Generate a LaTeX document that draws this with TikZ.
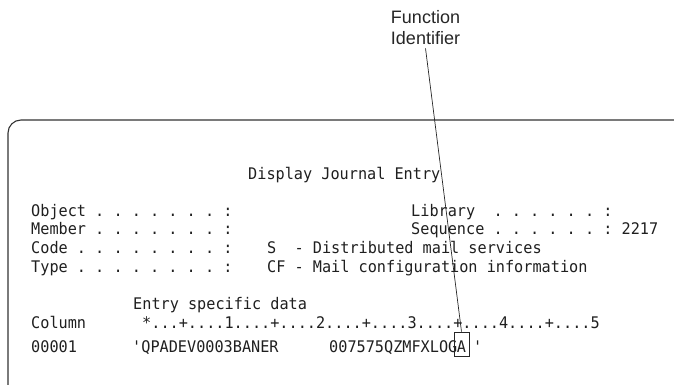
\documentclass[tikz,border=0pt]{standalone}
\usepackage{fontspec}
\setmainfont{Liberation Sans}
\newfontfamily\scrfont[FakeStretch=0.95,Ligatures=TeXOff]{DejaVu Sans Mono}
\newcommand\scrsetup{\scrfont\fontsize{16}{19}\selectfont\frenchspacing\spaceskip=9.15pt plus 0pt minus 0pt\relax}
\tikzset{
  scr/.style={font=\scrsetup, anchor=base west, inner sep=0pt, text=black!88},
  callout/.style={font=\fontsize{18}{21}\selectfont, align=center, text=black!85, inner sep=3pt},
  frameline/.style={draw=black!80, line width=1.1pt, rounded corners=13pt},
  leader/.style={draw=black!85, line width=0.7pt},
  markbox/.style={draw=black!85, line width=0.7pt, font=\scrsetup, anchor=base,
    minimum width=15pt, inner xsep=0pt, inner ysep=0pt, text height=20pt, text depth=4pt, text=black!88}
}
\begin{document}
\begin{tikzpicture}[x=1pt,y=1pt]
\useasboundingbox (0,0) rectangle (674,-385);
\begin{scope}
  \clip (0,0) rectangle (674,-385);
  \draw[frameline] (8,-400) -- (8,-120) -- (690,-120) -- (690,-400);
\end{scope}
% callout label
\node[callout] (fi) at (425.5,-28) {Function\\Identifier};
% screen text
\node[scr] (title) at (248,-179) {Display Journal Entry};
\node[scr] (obj) at (31,-216) {Object . . . . . . . :};
\node[scr] (lib) at (411,-216) {Library~~. . . . . . :};
\node[scr] (mem) at (31,-234.7) {Member . . . . . . . :};
\node[scr] (seq) at (411,-234.7) {Sequence . . . . . . : 2217};
\node[scr] (code) at (31,-253.3) {Code . . . . . . . . :};
\node[scr] (codev) at (267,-253.3) {S~~- Distributed mail services};
\node[scr] (type) at (31,-272) {Type . . . . . . . . :};
\node[scr] (typev) at (267,-272) {CF - Mail configuration information};
\node[scr] (esd) at (133,-309) {Entry specific data};
\node[scr] (col) at (31,-328) {Column};
\node[scr] (ruler) at (142,-328) {*...+....1....+....2....+....3....+....4....+....5};
\node[scr] (num) at (31,-352) {00001};
\node[scr] (d1) at (132,-352) {'QPADEV0003BANER};
\node[scr] (d2) at (329,-352) {007575QZMFXLOG};
\node[markbox] (boxA) at (461.5,-352) {A};
\node[scr] (q) at (473,-352) {'};
% leader line
\draw[leader] (fi.south) -- (boxA.north);
\end{tikzpicture}
\end{document}
